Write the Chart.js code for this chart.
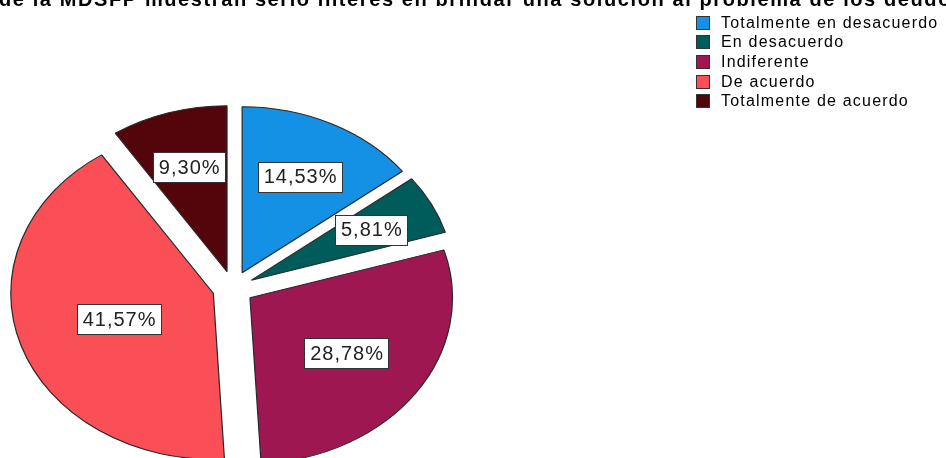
<!DOCTYPE html>
<html>
<head>
<meta charset="utf-8">
<title>Pie chart</title>
<script src="https://cdn.jsdelivr.net/npm/chart.js@4"></script>
<style>
  html, body { margin: 0; padding: 0; background: #fff; }
  #wrap { position: relative; width: 946px; height: 458px; }
</style>
</head>
<body>
<div id="wrap"><canvas id="pie-chart"></canvas></div>
<script>
// --- data ---
const categories = [
  'Totalmente en desacuerdo',
  'En desacuerdo',
  'Indiferente',
  'De acuerdo',
  'Totalmente de acuerdo'
];
const percentages = [14.53, 5.81, 28.78, 41.57, 9.30];
const sliceColors = ['#1490E4', '#005C5A', '#9E1750', '#FA4F57', '#54040B'];
const titleText = 'de la MDSFP muestran serio interés en brindar una solución al problema de los deudores';

// --- look ---
const RADIUS = 166;      // vertical radius of the pie
const STRETCH_X = 1.22;  // the pie is drawn as a wide ellipse
const EXPLODE = 17;      // every slice is pulled out by this much
const FONT = '"Liberation Sans", Arial, sans-serif';

const fmtPct = v => v.toFixed(2).replace('.', ',') + '%';

// apply horizontal stretch around the pie centre
function stretch(c, cx, cy) {
  c.translate(cx, cy);
  c.scale(STRETCH_X, 1);
  c.translate(-cx, -cy);
}

// draws the slices pulled apart, each one moved along its own mid angle
const explodedPie = {
  id: 'explodedPie',
  beforeDatasetsDraw(chart) {
    const c = chart.ctx;
    const arcs = chart.getDatasetMeta(0).data;
    if (!arcs.length) return;
    const { x: cx, y: cy } = arcs[0];
    c.save();
    stretch(c, cx, cy);
    arcs.forEach(arc => {
      const mid = (arc.startAngle + arc.endAngle) / 2;
      c.save();
      c.translate(Math.cos(mid) * EXPLODE, Math.sin(mid) * EXPLODE);
      arc.draw(c);
      c.restore();
    });
    c.restore();
    return false;
  }
};

// percentage boxes on the slices, the cut-off title and the legend
const annotations = {
  id: 'annotations',
  afterDraw(chart) {
    const c = chart.ctx;
    const arcs = chart.getDatasetMeta(0).data;

    // value labels, placed on each slice's centroid
    c.save();
    c.font = '20px ' + FONT;
    c.letterSpacing = '1px';
    c.textAlign = 'center';
    c.textBaseline = 'middle';
    arcs.forEach((arc, i) => {
      const half = (arc.endAngle - arc.startAngle) / 2;
      const mid = arc.startAngle + half;
      const dist = EXPLODE + (2 * arc.outerRadius * Math.sin(half)) / (3 * half);
      const x = arc.x + Math.cos(mid) * dist * STRETCH_X;
      const y = arc.y + Math.sin(mid) * dist;
      const text = fmtPct(percentages[i]);
      const w = Math.round(c.measureText(text).width + 10);
      const h = 30;
      const bx = Math.round(x - w / 2) + 0.5;
      const by = Math.round(y - h / 2) + 0.5;
      c.fillStyle = '#fff';
      c.fillRect(bx, by, w, h);
      c.strokeStyle = '#333';
      c.lineWidth = 1;
      c.strokeRect(bx, by, w, h);
      c.fillStyle = '#222';
      c.fillText(text, x + 1, y + 1);
    });
    c.restore();

    // title, mostly above the top edge
    c.save();
    c.font = 'bold 20px ' + FONT;
    c.letterSpacing = '1.6px';
    c.textAlign = 'left';
    c.textBaseline = 'alphabetic';
    c.fillStyle = '#000';
    c.fillText(titleText, -1, 6);
    c.restore();

    // legend
    c.save();
    c.font = '16px ' + FONT;
    c.letterSpacing = '1.2px';
    c.textAlign = 'left';
    c.textBaseline = 'middle';
    categories.forEach((label, i) => {
      const cy = Math.round(22.5 + 19.7 * i);
      c.fillStyle = sliceColors[i];
      c.fillRect(696.5, cy - 6.5, 13, 13);
      c.strokeStyle = '#333';
      c.lineWidth = 1;
      c.strokeRect(696.5, cy - 6.5, 13, 13);
      c.fillStyle = '#000';
      c.fillText(label, 721, cy + 1);
    });
    c.restore();
  }
};

const ctx = document.getElementById('pie-chart').getContext('2d');

new Chart(ctx, {
  type: 'pie',
  data: {
    labels: categories,
    datasets: [{
      data: percentages,
      backgroundColor: sliceColors,
      borderColor: '#2a2a2a',
      borderWidth: 1
    }]
  },
  options: {
    responsive: true,
    maintainAspectRatio: false,
    animation: false,
    radius: RADIUS,
    layout: { padding: { left: 0, right: 480, top: 118, bottom: 0 } },
    plugins: {
      legend: { display: false },
      title: { display: false },
      tooltip: { enabled: false }
    }
  },
  plugins: [explodedPie, annotations]
});
</script>
</body>
</html>
